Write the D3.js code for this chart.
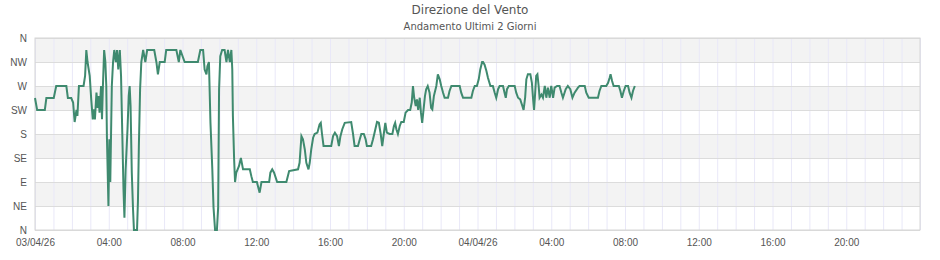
<!DOCTYPE html>
<html lang="it">
<head>
  <meta charset="UTF-8">
  <title>Direzione del Vento</title>
  <style>
    body { margin: 0; background: #fff; }
    svg { display: block; font-family: "DejaVu Sans", sans-serif; }
    .axis path { display: none; }
    .axis text { fill: #555; font-size: 10px; }
    .grid-y line { stroke: #dcdcdc; }
    .grid-x line { stroke: #e9e8f8; }
  </style>
</head>
<body>
  <div id="chart"></div>
  <script src="https://d3js.org/d3.v7.min.js"></script>
  <script>
    const titolo = 'Direzione del Vento'
    const sottotitolo = 'Andamento Ultimi 2 Giorni'

    // etichette asse y (gradi -> punto cardinale)
    const gradiTick = [0, 45, 90, 135, 180, 225, 270, 315, 360]
    const nomiTick = ['N', 'NE', 'E', 'SE', 'S', 'SW', 'W', 'NW', 'N']

    // minuti dalle 00:00 del 03/04/26
    const minuti = [
      0, 7, 32, 37, 61, 69, 102, 107, 118, 124, 129, 135, 138, 143, 158, 163, 167, 171,
      178, 183, 188, 192, 195, 200, 204, 207, 210, 215, 218, 221, 225, 229, 232, 234, 239, 242, 245, 250,
      254, 258, 263, 267, 271, 276, 280, 284, 288, 291, 295, 301, 305, 308, 311, 315, 319, 322, 332, 335,
      338, 342, 346, 352, 359, 365, 388, 395, 400, 406, 422, 427, 460, 468, 473,
      487, 530, 538, 547, 552, 558, 561, 566, 571, 577, 581, 586, 592, 596, 599, 603, 609, 617, 623, 628,
      634, 639, 642, 644, 648, 651, 655, 664, 670, 677, 699, 704, 709, 722, 731, 737, 742, 762, 766, 772,
      778, 788, 818, 827, 856, 861, 867, 872, 878, 883, 890, 894, 899, 905, 910, 919, 926, 930, 934, 939,
      964, 970, 976,
      983, 989, 994, 1000, 1008, 1029, 1035, 1040, 1051, 1057, 1062, 1070, 1076, 1080, 1094, 1100, 1105, 1113, 1119, 1125,
      1130, 1135, 1140, 1145, 1154, 1163, 1168, 1172, 1176, 1181, 1187, 1192, 1200, 1206, 1214, 1221, 1226, 1230, 1234, 1239,
      1243, 1247, 1252, 1256, 1260, 1265, 1269, 1273, 1278, 1284, 1289, 1293, 1298, 1306, 1311, 1317, 1322, 1328, 1333, 1344,
      1349, 1355, 1382, 1387, 1393, 1420, 1425, 1431, 1438, 1444, 1449, 1455,
      1458, 1463, 1469, 1474, 1482, 1490, 1496, 1501, 1507, 1512, 1523, 1528, 1532, 1536, 1542, 1561, 1566, 1572, 1579, 1586,
      1590, 1595, 1599, 1604, 1612, 1617, 1621, 1624, 1627, 1631, 1635, 1639, 1642, 1648, 1653, 1659, 1664, 1669, 1675, 1680,
      1686, 1691, 1699, 1707, 1713, 1718, 1727, 1734, 1742, 1749, 1756, 1767, 1772, 1789, 1794, 1802, 1832, 1837, 1843, 1859,
      1865, 1870, 1873, 1878, 1883, 1900, 1905, 1910, 1916, 1922, 1930, 1935, 1941, 1946, 1952
    ]

    // direzione in gradi
    const gradi = [
      247.5, 225, 225, 247.5, 247.5, 270, 270, 247.5, 247.5, 239, 202.5, 225, 214, 270, 270, 289, 337.5, 315,
      289, 245, 207.5, 226, 207.5, 257.5, 229, 251, 220, 270, 207.5, 270, 337.5, 315, 270, 176, 45, 170, 90, 270,
      315, 337.5, 315, 337.5, 301, 337.5, 289, 182.5, 76, 23, 114, 189, 251, 270, 232.5, 107.5, 39, 0, 0, 54,
      157.5, 264, 315, 337.5, 315, 337.5, 337.5, 315, 292, 315, 315, 337.5, 337.5, 315, 337.5,
      315, 315, 337.5, 337.5, 301, 292, 307, 315, 201, 114, 42, 0, 0, 42, 264, 326, 337.5, 337.5, 315, 337.5,
      315, 337.5, 301, 214, 132.5, 90, 107.5, 120, 135, 113.75, 113.75, 101, 90, 90, 70, 90, 90, 90, 107.5, 113.75,
      107.5, 90, 90, 110.6, 113.75, 126, 176, 170, 151, 126, 113.75, 126, 151, 173, 180, 182.5, 198, 201, 180, 157.5,
      157.5, 176, 182.5,
      176, 157.5, 176, 189, 201, 202.5, 180, 157.5, 157.5, 170, 180, 180, 170, 157.5, 157.5, 170, 182.5, 202.5, 201, 180,
      157.5, 180, 201, 182.5, 180, 180, 195, 201, 189, 180, 195, 202.5, 202.5, 220, 225, 225, 239, 270, 248, 232.5,
      245, 225, 248, 220, 201, 229, 251, 264, 270, 257.5, 229, 226, 251, 270, 292, 282.5, 270, 257.5, 248, 248,
      260.6, 270, 270, 257.5, 248, 248, 260.6, 270, 270, 282.5, 301, 315,
      315, 310, 298, 285.6, 270, 270, 257.5, 248, 264, 270, 270, 257.5, 248, 264, 270, 270, 257.5, 248, 245, 232.5,
      225, 248, 282.5, 292, 292, 276, 245, 225, 251, 289, 292, 270, 248, 254, 248, 270, 248, 267, 248, 270,
      248, 267, 270, 270, 257.5, 248, 264, 270, 264, 248, 257.5, 267, 270, 270, 257.5, 248, 248, 260.6, 270, 270,
      276, 285.6, 292, 279.4, 270, 270, 260.6, 248, 260.6, 270, 270, 257.5, 248, 260.6, 270
    ]

    const inizio = new Date(2026, 3, 3, 0, 0)
    const fine = d3.timeHour.offset(inizio, 48)

    const data = minuti.map((m, i) => ({ t: d3.timeMinute.offset(inizio, m), v: gradi[i] }))

    const W = 940, H = 260
    const m = { top: 38, right: 20, bottom: 30, left: 35 }
    const w = W - m.left - m.right, h = H - m.top - m.bottom

    const xScale = d3.scaleTime().domain([inizio, fine]).range([0, w])
    const yScale = d3.scaleLinear().domain([0, 360]).range([h, 0])

    const svg = d3.select('#chart').append('svg')
      .attr('width', W)
      .attr('height', H)

    svg.append('text')
      .attr('x', W / 2).attr('y', 14)
      .attr('text-anchor', 'middle')
      .style('font-size', '12px')
      .style('fill', '#555')
      .text(titolo)

    svg.append('text')
      .attr('x', W / 2).attr('y', 30)
      .attr('text-anchor', 'middle')
      .style('font-size', '10px')
      .style('fill', '#555')
      .text(sottotitolo)

    const g = svg.append('g').attr('transform', `translate(${m.left},${m.top})`)

    // bande grigie alternate
    g.selectAll('rect.band')
      .data(d3.pairs(gradiTick).filter((d, i) => i % 2 === 1))
      .enter()
      .append('rect')
      .attr('class', 'band')
      .attr('x', 0)
      .attr('width', w)
      .attr('y', d => yScale(d[1]))
      .attr('height', d => yScale(d[0]) - yScale(d[1]))
      .attr('fill', '#f3f3f3')

    // griglia verticale, una linea ogni ora
    g.append('g')
      .attr('class', 'grid-x')
      .attr('transform', `translate(0,${h})`)
      .call(d3.axisBottom(xScale).ticks(d3.timeHour.every(1)).tickSize(-h).tickFormat(''))
      .call(s => s.select('.domain').remove())

    // griglia orizzontale + etichette
    g.append('g')
      .attr('class', 'axis grid-y')
      .call(d3.axisLeft(yScale).tickValues(gradiTick).tickSize(-w).tickPadding(8)
        .tickFormat((d, i) => nomiTick[i]))

    const fmt = d => d.getHours() === 0 ? d3.timeFormat('%d/%m/%y')(d) : d3.timeFormat('%H:%M')(d)
    g.append('g')
      .attr('class', 'axis')
      .attr('transform', `translate(0,${h})`)
      .call(d3.axisBottom(xScale).ticks(d3.timeHour.every(4)).tickSize(0).tickPadding(9).tickFormat(fmt))
      .call(s => s.selectAll('.tick').filter(d => d >= fine).remove())

    // bordo
    g.append('rect')
      .attr('width', w).attr('height', h)
      .attr('fill', 'none')
      .attr('stroke', '#d6d6d6')

    const line = d3.line()
      .x(d => xScale(d.t))
      .y(d => yScale(d.v))

    g.append('path')
      .datum(data)
      .attr('fill', 'none')
      .attr('stroke', '#3f8a6f')
      .attr('stroke-width', 2)
      .attr('d', line)
  </script>
</body>
</html>
